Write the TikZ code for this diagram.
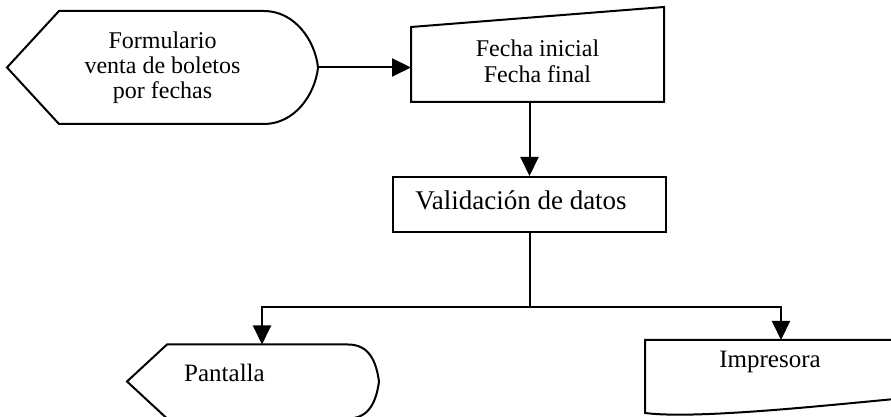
\documentclass[tikz,border=0pt]{standalone}
\usepackage{fontspec}
\setmainfont{Liberation Serif}
\usetikzlibrary{arrows.meta,positioning}

\begin{document}
\begin{tikzpicture}[x=1pt,y=1pt,line width=2pt,
  shp/.style={inner sep=0pt,align=center},
  txt/.style={inner sep=0pt,font=\fontsize{25}{27}\selectfont},
  arr/.style={-{Triangle[length=19pt,width=18pt]}}]
\useasboundingbox (0,0) rectangle (891,417);
% shapes
\node[shp,minimum width=309pt,minimum height=111pt,font=\fontsize{24}{25}\selectfont] (form) at (162.5,349.5) {Formulario\\venta de boletos\\por fechas};
\draw (form.west) -- ([xshift=52pt]form.north west) -- ([xshift=-54pt]form.north east)
  .. controls +(30,0) and +(-3,28) .. (form.east)
  .. controls +(-3,-28) and +(30,0) .. ([xshift=-54pt]form.south east) -- ([xshift=52pt]form.south west) -- cycle;
\node[shp,minimum width=251pt,minimum height=80pt,font=\fontsize{24}{26}\selectfont] (input) at (537.5,356) {Fecha inicial\\Fecha final};
\draw (input.south west) -- ([yshift=-7pt]input.north west) -- ([yshift=13pt]input.north east) -- (input.south east) -- cycle;
\node[shp,draw,minimum width=273pt,minimum height=55pt,label={[txt,font=\fontsize{27}{29}\selectfont,xshift=-8.5pt,yshift=4.5pt]center:Validación de datos}] (valid) at (529.5,212.5) {};
\node[shp,minimum width=268pt,minimum height=72pt,label={[txt,xshift=-37.5pt,yshift=8.5pt]center:Pantalla}] (pant) at (262,35.5) {};
\draw (pant.west) -- ([xshift=40pt]pant.north west) -- ([xshift=-49pt]pant.north east)
  .. controls +(20,0) and +(-3,22) .. ([xshift=-18pt]pant.east)
  .. controls +(-3,-22) and +(20,0) .. ([xshift=-49pt]pant.south east) -- ([xshift=40pt]pant.south west) -- cycle;
\node[shp,minimum width=270pt,minimum height=71pt,label={[txt,xshift=-11pt,yshift=14.5pt]center:Impresora}] (doc) at (781,40.5) {};
\draw (doc.south west) .. controls +(55,-7) and +(-70,-6) .. ([yshift=16pt]doc.south east)
  -- (doc.north east) -- (doc.north west) -- cycle;
% connectors
\coordinate[below=74pt of valid.south] (split);
\draw[arr] (form.east) -- (form.east -| input.west);
\draw[arr] (valid.north |- input.south) -- (valid.north);
\draw (valid.south) -- (split);
\draw[arr] (split) -| (pant.north);
\draw[arr] (split) -| (doc.north);
\end{tikzpicture}
\end{document}
